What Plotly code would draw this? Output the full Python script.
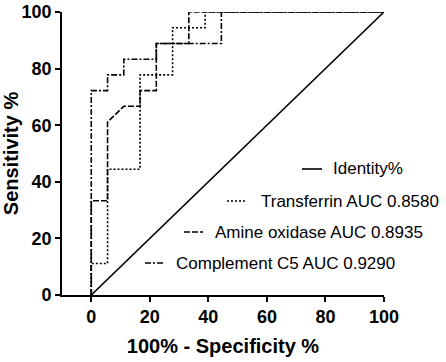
import plotly.graph_objects as go

# ROC data (100% - specificity, sensitivity)
identity_x = [0, 100]
identity_y = [0, 100]

transferrin_x = [0, 0, 5.56, 5.56, 16.67, 16.67, 27.78, 27.78, 38.89, 38.89, 100]
transferrin_y = [0, 11.11, 11.11, 44.44, 44.44, 77.78, 77.78, 94.44, 94.44, 100, 100]

amine_x = [0, 0, 5.56, 5.56, 11.11, 16.67, 16.67, 22.22, 22.22, 33.33, 33.33, 100]
amine_y = [0, 33.33, 33.33, 61.11, 66.67, 66.67, 72.22, 72.22, 88.89, 88.89, 100, 100]

c5_x = [0, 0, 5.56, 5.56, 11.11, 11.11, 22.22, 22.22, 44.44, 44.44, 100]
c5_y = [0, 72.22, 72.22, 77.78, 77.78, 83.33, 83.33, 88.89, 88.89, 100, 100]

names = ["Identity%", "Transferrin AUC 0.8580", "Amine oxidase AUC 0.8935", "Complement C5 AUC 0.9290"]
dashes = ["solid", "2px,2px", "6px,2px", "6px,2px,2px,2px"]
xs = [identity_x, transferrin_x, amine_x, c5_x]
ys = [identity_y, transferrin_y, amine_y, c5_y]

W, H = 446, 362
L, R, T, B = 62, 62, 12, 67
pw, ph = W - L - R, H - T - B

def px(x):  # page pixel x -> paper
    return (x - L) / pw

def py(y):  # page pixel y -> paper
    return (H - B - y) / ph

fig = go.Figure()
for xv, yv, nm, d in zip(xs, ys, names, dashes):
    fig.add_trace(go.Scatter(x=xv, y=yv, mode="lines", name=nm,
                             line=dict(color="black", width=1.6, dash=d),
                             cliponaxis=False, showlegend=False, hoverinfo="skip"))

# legend layout (page pixel positions: sample start, sample end, text start, y)
leg = [(302, 322, 333, 169), (227, 245, 261, 201), (184, 203, 215, 232), (145, 165, 176, 263)]
font = dict(family="Liberation Sans, Arial, sans-serif", size=17, color="black")
for (x0, x1, tx, yy), nm, d in zip(leg, names, dashes):
    fig.add_shape(type="line", xref="paper", yref="paper", x0=px(x0), x1=px(x1),
                  y0=py(yy), y1=py(yy), line=dict(color="black", width=1.6, dash=d))
    fig.add_annotation(xref="paper", yref="paper", x=px(tx), y=py(yy), text=nm,
                       showarrow=False, xanchor="left", yanchor="middle", font=font,
                       xshift=-2)

tickf = dict(family="Liberation Sans, Arial, sans-serif", size=18, color="black", weight="bold")
titlef = dict(family="Liberation Sans, Arial, sans-serif", size=20, color="black", weight="bold")
fig.update_layout(
    width=W, height=H, margin=dict(l=L, r=R, t=T, b=B),
    plot_bgcolor="white", paper_bgcolor="white",
    xaxis=dict(range=[-10, 100], tickvals=[0, 20, 40, 60, 80, 100], showgrid=False, zeroline=False,
               showline=True, linecolor="black", linewidth=1.6, ticks="outside", ticklen=5,
               tickwidth=1.6, tickcolor="black", tickfont=tickf, automargin=False,
               ticklabeloverflow="allow",
               title=dict(text="100% - Specificity %", font=titlef, standoff=13)),
    yaxis=dict(range=[0, 100], tickvals=[0, 20, 40, 60, 80, 100], showgrid=False, zeroline=False,
               showline=True, linecolor="black", linewidth=1.6, ticks="outside", ticklen=5,
               tickwidth=1.6, tickcolor="black", tickfont=tickf, automargin=False,
               ticklabeloverflow="allow",
               title=dict(text="Sensitivity %", font=titlef, standoff=2)),
)
fig.write_html("out.html", config={"displayModeBar": False},
               post_script="document.body.style.margin='0px';")
